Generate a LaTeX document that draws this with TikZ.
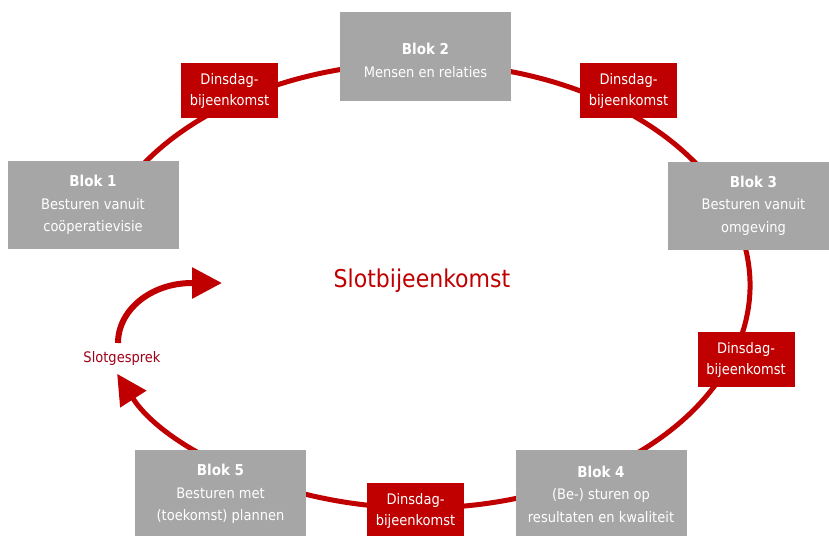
\documentclass[tikz,border=0pt]{standalone}
\usepackage{fontspec}
\setmainfont{DejaVu Sans Condensed}
\usetikzlibrary{arrows.meta}
\definecolor{blokgrijs}{HTML}{A6A6A6}
\definecolor{dinsrood}{HTML}{C00000}
\definecolor{gesprekrood}{HTML}{A00018}
\newcommand{\blokkop}[1]{{\fontsize{15}{22.5}\selectfont\bfseries #1}}
\tikzset{
	blok/.style={fill=blokgrijs, text=white, minimum width=171pt, minimum height=88pt, inner sep=0pt, align=center, font=\fontsize{14.5}{22.5}\selectfont},
	bloktekst/.style={text=white, inner sep=0pt, align=center, font=\fontsize{14.5}{22.5}\selectfont},
	dinsdag/.style={fill=dinsrood, text=white, minimum width=97pt, minimum height=55pt, inner sep=0pt, align=center, font=\fontsize{14.5}{21}\selectfont},
	cyclus/.style={draw=dinsrood, line width=5pt},
	pijlpunt/.style={-{Triangle[length=30pt,width=30pt]}}
}

\begin{document}
\begin{tikzpicture}[x=1pt, y=-1pt]
		%%%%% START %%%%%
		\useasboundingbox (0,0) rectangle (829,535);
		
		\coordinate (midden) at (420,285.5);
		\draw[cyclus, pijlpunt] (midden) ++(193:330 and 222.5) arc (193:516.6:330 and 222.5);
		\draw[cyclus, line width=6pt, pijlpunt] (118,343) arc (180:270:74 and 60) -- (222,283);
		
		\node[blok] (blok1) at (93,205) {\blokkop{Blok 1}\\Besturen vanuit\\coöperatievisie};
		\node[blok] (blok2) at (425.5,56.5) {};
		\node[bloktekst] (tekst2) at ([yshift=-4pt]blok2.center) {\blokkop{Blok 2}\\Mensen en relaties};
		\node[blok] (blok3) at (753.5,205.5) {\blokkop{Blok 3}\\Besturen vanuit\\omgeving};
		\node[blok] (blok4) at (601,494) {\blokkop{Blok 4}\\(Be-) sturen op\\resultaten en kwaliteit};
		\node[blok] (blok5) at (220.5,494) {\blokkop{Blok 5}\\Besturen met\\(toekomst) plannen};
		
		\node[dinsdag] (dins1) at (229.5,90.5) {Dinsdag-\\bijeenkomst};
		\node[dinsdag] (dins2) at (628.5,90.5) {Dinsdag-\\bijeenkomst};
		\node[dinsdag] (dins3) at (746,359.5) {Dinsdag-\\bijeenkomst};
		\node[dinsdag] (dins4) at (415.5,510.5) {Dinsdag-\\bijeenkomst};
		
		\node[text=dinsrood, font=\fontsize{24.5}{28}\selectfont] (slot) at (422,281) {Slotbijeenkomst};
		\node[text=gesprekrood, font=\fontsize{14.5}{17}\selectfont] (gesprek) at (122,358) {Slotgesprek};
		
		%%%%% END %%%%%
	\end{tikzpicture}
\end{document}
